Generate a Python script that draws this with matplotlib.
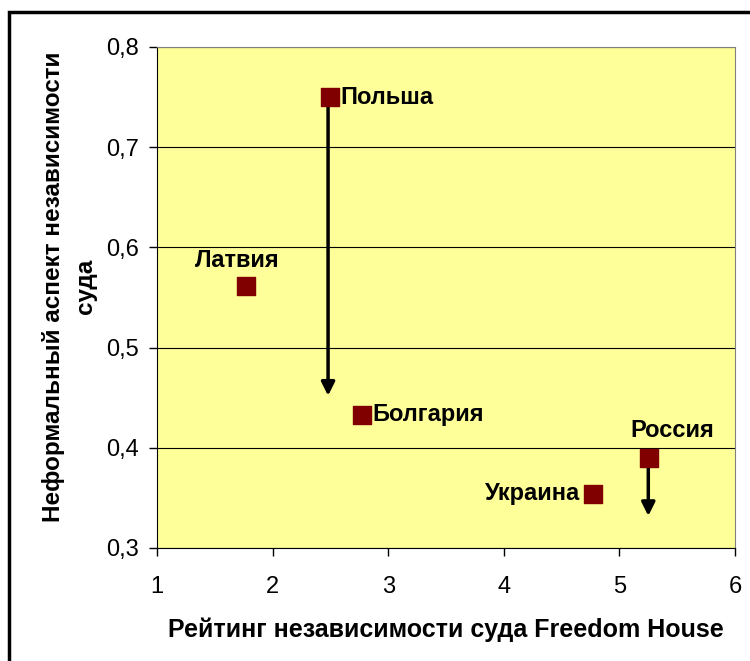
import matplotlib.pyplot as plt
from matplotlib.ticker import FuncFormatter

plt.rcParams['font.family'] = ['Liberation Sans', 'DejaVu Sans']

countries = ['Польша', 'Латвия', 'Болгария', 'Украина', 'Россия']
fh_rating = [2.5, 1.77, 2.77, 4.77, 5.26]
informal = [0.75, 0.561, 0.433, 0.354, 0.39]

# стрелки: (x, y начала, y конца)
arrows = [(2.48, 0.748, 0.452), (5.25, 0.387, 0.332)]

# смещение подписей (точки), выравнивание
label_pos = {
    'Польша': ((7.5, 0), 'left', 'center'),
    'Латвия': ((-6.5, 19), 'center', 'center'),
    'Болгария': ((7.5, 0), 'left', 'center'),
    'Украина': ((-9, 0), 'right', 'center'),
    'Россия': ((16.5, 19.5), 'center', 'center'),
}

fig = plt.figure(figsize=(7.5, 6.61), dpi=100)
ax = fig.add_axes([0.2093, 0.171, 0.7707, 0.7579])
ax.set_facecolor('#FFFF99')

ax.scatter(fh_rating, informal, marker='s', s=150, color='#800000', zorder=3)

for name, x, y in zip(countries, fh_rating, informal):
    off, ha, va = label_pos[name]
    ax.annotate(name, (x, y), xytext=off, textcoords='offset points',
                ha=ha, va=va, fontsize=17, fontweight='bold', zorder=4)

for x, y0, y1 in arrows:
    ax.annotate('', xy=(x, y1), xytext=(x, y0),
                arrowprops=dict(arrowstyle='-|>', color='black', lw=2.5,
                                mutation_scale=20, shrinkA=0, shrinkB=0),
                zorder=2)

ax.set_xlim(1, 6)
ax.set_ylim(0.3, 0.8)
ax.set_xticks([1, 2, 3, 4, 5, 6])
ax.set_yticks([0.3, 0.4, 0.5, 0.6, 0.7, 0.8])
ax.yaxis.set_major_formatter(FuncFormatter(lambda v, p: f'{v:.1f}'.replace('.', ',')))
ax.tick_params(direction='out', length=6, width=1, labelsize=17)
ax.tick_params(axis='x', pad=14)
ax.tick_params(axis='y', pad=7)
ax.grid(axis='y', color='black', linewidth=0.8)
ax.set_axisbelow(True)

for s in ['top', 'right']:
    ax.spines[s].set_color('#808080')
for s in ['left', 'bottom']:
    ax.spines[s].set_color('black')

ax.set_xlabel('Рейтинг независимости суда Freedom House', fontsize=18,
              fontweight='bold', labelpad=14)
ax.set_ylabel('Неформальный аспект независимости\nсуда', fontsize=17.5,
              fontweight='bold', linespacing=1.55)
ax.yaxis.set_label_coords(-0.103, 0.522)

# рамка вокруг рисунка
fig.patches.append(plt.Rectangle((0.012, -0.01), 1.0, 0.992, transform=fig.transFigure,
                                 fill=False, edgecolor='black', linewidth=2.5))

fig.savefig('out.png', dpi=100)
